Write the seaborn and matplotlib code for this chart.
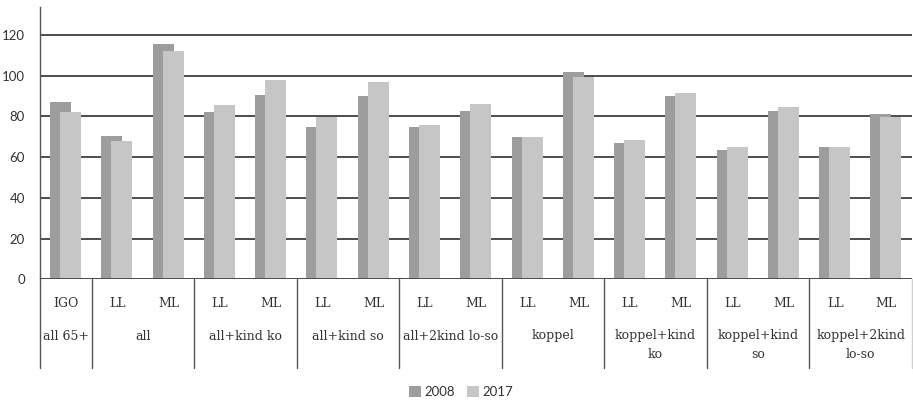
import numpy as np
import pandas as pd
import matplotlib
matplotlib.use("Agg")
import matplotlib.pyplot as plt
import matplotlib.transforms as mtransforms
from matplotlib.patches import Patch
import seaborn as sns

# Household types (group labels) and the number of sub-bars per group
groups = ["all 65+", "all", "all+kind ko", "all+kind so", "all+2kind lo-so",
          "koppel", "koppel+kind\nko", "koppel+kind\nso", "koppel+2kind\nlo-so"]
group_sizes = [1, 2, 2, 2, 2, 2, 2, 2, 2]
sub_labels = ["IGO", "LL", "ML", "LL", "ML", "LL", "ML", "LL", "ML",
              "LL", "ML", "LL", "ML", "LL", "ML", "LL", "ML"]

values_2008 = [87.1, 70.4, 115.6, 82.2, 90.5, 74.8, 90.0, 74.8, 82.7,
               69.9, 101.8, 67.0, 90.0, 63.5, 82.7, 65.0, 81.2]
values_2017 = [82.2, 67.9, 112.1, 85.6, 97.9, 79.6, 96.9, 75.8, 86.1,
               69.9, 99.4, 68.4, 91.5, 65.0, 84.6, 65.0, 79.7]

years = ["2008", "2017"]
colors = {"2008": "#9d9d9c", "2017": "#c6c6c6"}

slots = np.arange(len(sub_labels))
df = pd.DataFrame({
    "slot": np.concatenate([slots, slots]),
    "value": values_2008 + values_2017,
    "year": ["2008"] * len(slots) + ["2017"] * len(slots),
})
# overlapping bars: the later year sits slightly to the right, in front
shift = {"2008": -0.105, "2017": 0.09}
df["x"] = df["slot"] + df["year"].map(shift)

sns.set_style("white")
plt.rcParams["font.family"] = ["Lato", "DejaVu Sans"]

fig = plt.figure(figsize=(9.13, 4.04), dpi=100)
ax = fig.add_axes([40.3 / 913, 124.7 / 404, (912 - 40.3) / 913, (279.3 - 7) / 404])

for yr in years:
    sub = df[df["year"] == yr]
    sns.barplot(data=sub, x="x", y="value", native_scale=True, width=0.41,
                color=colors[yr], saturation=1, edgecolor="none",
                linewidth=0, errorbar=None, ax=ax, zorder=3)

ax.set_xlim(-0.5, len(slots) - 0.5)
ax.set_ylim(0, 133.7)
ax.set_yticks(np.arange(0, 121, 20))
ax.set_xticks([])
ax.set_xlabel("")
ax.set_ylabel("")
ax.grid(axis="y", color="#4d4d4d", linewidth=1.4, zorder=0)
ax.grid(axis="x", visible=False)
for s in ["top", "right", "bottom"]:
    ax.spines[s].set_visible(False)
ax.spines["left"].set_color("#555555")
ax.spines["left"].set_linewidth(1.0)
ax.tick_params(axis="y", length=0, pad=11, labelsize=9.5, labelcolor="#333333")
ax.axhline(0, color="#4d4d4d", linewidth=1.4, zorder=4)

# Category axis drawn as a two-row table below the plot
trans = mtransforms.blended_transform_factory(ax.transData, ax.transAxes)
bottom_edge = -(368 - 279.3) / 272.3
serif = ["DejaVu Serif"]

for i, lab in enumerate(sub_labels):
    ax.text(i, -24 / 272.3, lab, transform=trans, ha="center", va="center",
            fontsize=9, family=serif, color="#333333")

start = 0
boundaries = [-0.5]
for name, size in zip(groups, group_sizes):
    center = start + (size - 1) / 2
    ax.text(center, -(329.5 - 279.3) / 272.3, name, transform=trans,
            ha="center", va="top", fontsize=9, family=serif, color="#333333",
            linespacing=1.55)
    start += size
    boundaries.append(start - 0.5)

for b in boundaries:
    lc = "#555555" if b < len(slots) - 0.5 else "#d0d0d0"
    ax.plot([b, b], [0, bottom_edge], transform=trans, color=lc,
            linewidth=1.0, clip_on=False, zorder=5)

handles = [Patch(facecolor=colors[y], edgecolor="none", label=y) for y in years]
fig.legend(handles=handles, loc="lower center", ncol=2, frameon=False,
           bbox_to_anchor=(0.505, -0.015), handlelength=0.9, handleheight=0.9,
           handletextpad=0.3, columnspacing=0.9,
           prop={"size": 9.5}, labelcolor="#333333")

fig.savefig("out.png", dpi=100)
